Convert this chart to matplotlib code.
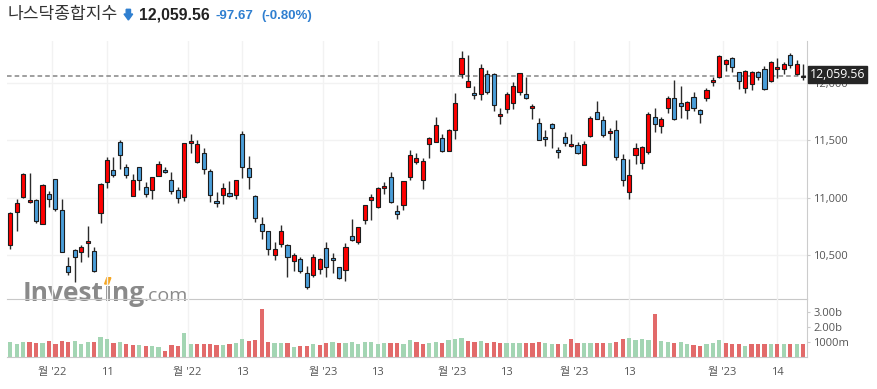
"""
Nasdaq Composite daily candles with volume, Investing.com style.
"""
import numpy as np
import matplotlib
matplotlib.use('Agg')
import matplotlib.pyplot as plt
from matplotlib.patches import Polygon, Rectangle

W, H = 877, 389

# daily OHLC (Oct 21 2022 .. Apr 20 2023)
opens = [
    10587, 10874, 11004, 10961, 10978, 10770, 11033, 11160, 10891, 10405,
    10550, 10526, 10605, 10538, 10871, 11134, 11239, 11482, 11268, 11016,
    11265, 11091, 11065, 11186, 11239, 11152, 11065, 11004, 11473, 11314,
    11386, 11233, 10969, 11022, 11039, 11022, 11551, 11256, 11016, 10770,
    10709, 10500, 10596, 10587, 10448, 10469, 10344, 10327, 10379, 10561,
    10474, 10396, 10370, 10665, 10613, 10804, 10978, 10917, 11082, 11178,
    10888, 10935, 11178, 11308, 11152, 11464, 11482, 11517, 11404, 11586,
    12075, 11960, 11907, 11899, 12072, 12072, 11708, 11768, 11820, 11916,
    11902, 11777, 11647, 11525, 11638, 11412, 11525, 11447, 11456, 11282,
    11534, 11742, 11673, 11560, 11586, 11334, 11048, 11369, 11299, 11395,
    11699, 11621, 11777, 11864, 11820, 11760, 11873, 11760, 11864, 12003,
    12046, 12159, 12211, 12090, 11951, 11986, 12090, 12116, 12012, 12116,
    12116, 12237, 12072, 12046]
highs = [
    10880, 10987, 11213, 11213, 10987, 11117, 11062, 11160, 10993, 10489,
    10555, 10590, 10755, 10570, 11126, 11357, 11352, 11502, 11291, 11204,
    11265, 11134, 11181, 11317, 11268, 11221, 11094, 11473, 11551, 11502,
    11430, 11253, 11048, 11126, 11143, 11152, 11580, 11360, 11027, 10836,
    10715, 10613, 10761, 10599, 10518, 10483, 10408, 10509, 10474, 10613,
    10518, 10396, 10605, 10813, 10749, 10935, 11033, 11097, 11140, 11227,
    10935, 11143, 11412, 11386, 11343, 11525, 11699, 11557, 11595, 11907,
    12275, 12240, 11974, 12159, 12107, 12081, 11783, 11922, 12003, 12081,
    12046, 11815, 11690, 11586, 11647, 11438, 11569, 11551, 11482, 11491,
    11708, 11838, 11708, 11603, 11673, 11378, 11334, 11473, 11453, 11748,
    11777, 11699, 11884, 12020, 11968, 11838, 11916, 11768, 11951, 12046,
    12237, 12203, 12220, 12090, 12107, 12098, 12098, 12142, 12185, 12211,
    12177, 12255, 12194, 12159]
lows = [
    10555, 10715, 11001, 10958, 10784, 10770, 10923, 10888, 10526, 10330,
    10266, 10440, 10483, 10353, 10784, 11082, 11178, 11247, 11169, 11016,
    11068, 11004, 10987, 11186, 11218, 11030, 10952, 10975, 11386, 11305,
    11204, 10961, 10917, 10943, 11004, 10993, 11169, 11077, 10787, 10645,
    10500, 10460, 10576, 10315, 10367, 10344, 10208, 10309, 10335, 10315,
    10344, 10298, 10278, 10628, 10599, 10770, 10804, 10912, 11030, 10958,
    10813, 10891, 11152, 11294, 11074, 11349, 11482, 11395, 11404, 11508,
    12038, 11960, 11855, 11847, 11899, 11754, 11638, 11734, 11768, 11890,
    11855, 11682, 11502, 11453, 11435, 11343, 11453, 11438, 11378, 11282,
    11525, 11682, 11525, 11499, 11326, 11100, 10987, 11291, 11247, 11378,
    11569, 11560, 11734, 11673, 11690, 11682, 11751, 11647, 11838, 11968,
    12038, 12098, 12090, 11942, 11907, 11933, 12020, 11933, 12003, 12038,
    12072, 12125, 12064, 12020]
closes = [
    10865, 10958, 11204, 10978, 10801, 11108, 10993, 10900, 10532, 10353,
    10483, 10570, 10622, 10361, 11117, 11326, 11201, 11369, 11195, 11152,
    11152, 11030, 11181, 11291, 11221, 11056, 10995, 11473, 11491, 11464,
    11247, 11022, 10952, 11082, 11013, 11152, 11265, 11178, 10822, 10709,
    10553, 10553, 10709, 10483, 10500, 10361, 10222, 10483, 10466, 10396,
    10457, 10306, 10570, 10636, 10744, 10935, 11004, 11082, 11100, 10967,
    10857, 11143, 11369, 11343, 11317, 11517, 11629, 11404, 11586, 11820,
    12211, 12012, 11890, 12125, 11922, 11803, 11725, 11902, 11968, 12081,
    11864, 11794, 11502, 11508, 11603, 11395, 11473, 11464, 11386, 11464,
    11690, 11682, 11543, 11577, 11352, 11152, 11195, 11430, 11438, 11725,
    11638, 11682, 11864, 11682, 11794, 11829, 11777, 11725, 11933, 12020,
    12229, 12194, 12133, 12012, 12098, 12090, 12046, 11942, 12177, 12133,
    12163, 12155, 12158, 12059.56]
prev_close = 10614  # close of the day before the first candle

# volume in billions
volumes = [
    0.97, 0.84, 0.97, 0.97, 0.91, 0.91, 1.04, 0.84, 1.04, 0.97,
    1.04, 0.84, 0.97, 0.97, 1.30, 1.17, 0.91, 0.97, 0.84, 0.77,
    0.77, 0.71, 0.71, 0.64, 0.38, 0.77, 0.71, 1.57, 0.84, 0.84,
    0.84, 0.84, 0.77, 0.77, 0.84, 0.91, 1.17, 1.04, 1.10, 3.16,
    0.97, 0.91, 0.91, 0.91, 0.64, 0.71, 0.71, 0.84, 0.77, 0.91,
    0.97, 0.91, 0.91, 0.97, 0.84, 0.97, 0.97, 0.84, 0.91, 0.91,
    0.91, 0.84, 1.10, 0.97, 0.84, 0.91, 0.97, 0.91, 1.10, 1.17,
    1.24, 1.04, 0.97, 1.04, 0.91, 0.97, 0.91, 0.91, 0.91, 0.91,
    0.91, 0.91, 0.97, 0.91, 0.84, 0.84, 0.84, 1.17, 0.91, 0.91,
    0.91, 0.91, 0.91, 0.91, 0.97, 1.17, 1.24, 1.10, 1.17, 1.10,
    2.83, 1.04, 0.97, 0.91, 0.97, 0.84, 0.77, 0.71, 0.84, 0.91,
    1.10, 0.91, 0.84, 0.84, 0.71, 0.84, 0.84, 0.84, 0.84, 0.84,
    0.84, 0.84, 0.84, 0.84]

# x gridlines (candle index) and their labels
grid_pos = [6.5, 15, 27.5, 36, 48.5, 57, 68.5, 77, 87.5, 96, 110.5, 119]
grid_labels = ["월 '22", "11", "월 '22", "13", "월 '23", "13",
               "월 '23", "13", "월 '23", "13", "월 '23", "14"]
price_ticks = [10500, 11000, 11500, 12000]
vol_ticks = [1, 2, 3]
vol_labels = ['1000m', '2.00b', '3.00b']

RED = '#ff0000'
BLUE = '#4a9ed9'
VOL_UP = '#a3d5b3'
VOL_DN = '#e26a6a'
ORANGE = '#f5a623'
TXT_BLUE = '#2f7fd0'
LOGO = '#8a8a8a'

plt.rcParams['font.family'] = ['Open Sans', 'Noto Sans CJK KR']


def fx(x):
    return x / W


def fy(y):
    return 1 - y / H


fig = plt.figure(figsize=(W / 100, H / 100), dpi=100)
ax = fig.add_axes([fx(7), fy(299), 800 / W, 258 / H])
axv = fig.add_axes([fx(7), fy(357), 800 / W, 58 / H])
for a in (ax, axv):
    a.set_facecolor('none')
    a.set_xlim(-0.51, 123.6)
    a.set_xticks(grid_pos)
    a.yaxis.tick_right()
    a.spines['top'].set_visible(False)
    a.spines['left'].set_visible(False)
    a.spines['right'].set_color('#cccccc')
    a.spines['bottom'].set_color('#c8c8c8')
    a.set_axisbelow(True)
    a.tick_params(axis='y', length=2.5, color='#cccccc',
                  labelcolor='#555555', labelsize=8, pad=2)

# candles
idx = np.arange(len(opens))
o = np.array(opens, dtype=float)
c = np.array(closes, dtype=float)
up = c >= o
lo = np.minimum(o, c)
hgt = np.abs(c - o)
min_h = 10
small = hgt < min_h
lo[small] = (o[small] + c[small]) / 2 - min_h / 2
hgt[small] = min_h
ax.vlines(idx, lows, highs, color='#2b2b2b', lw=1, zorder=2)
ax.bar(idx, hgt, bottom=lo, width=0.64, color=np.where(up, RED, BLUE),
       edgecolor='#1c1c1c', lw=0.8, zorder=3)
ax.axhline(closes[-1], color='#858585', lw=1.1, dashes=(3, 2), zorder=1.5)

ax.set_ylim(10121, 12362)
ax.set_yticks(price_ticks)
ax.set_yticklabels([f'{t:,}' for t in price_ticks])
ax.tick_params(axis='x', length=0, labelbottom=False)
ax.grid(True, color='#f2f2f2', lw=1)

# volume
prev = [prev_close] + closes[:-1]
vcol = [VOL_UP if cl >= p else VOL_DN for cl, p in zip(closes, prev)]
axv.bar(idx, volumes, width=0.66, color=vcol, zorder=2)
axv.set_ylim(0, 3.84)
axv.set_yticks(vol_ticks)
axv.set_yticklabels(vol_labels)
axv.set_xticklabels(grid_labels)
axv.tick_params(axis='x', length=0, labelsize=8, labelcolor='#555555', pad=7)
axv.grid(True, axis='x', color='#f2f2f2', lw=1)

# last price box on the right axis
fig.patches.append(Rectangle((fx(808), fy(83.3)), 59 / W, 17.6 / H,
                             transform=fig.transFigure, color='#262626'))
fig.text(fx(837.5), fy(74.8), '12,059.56', color='white', size=8.8,
         ha='center', va='center')

# header
fig.text(fx(8), fy(19.5), '나스닥종합지수', family='Noto Sans CJK KR',
         size=12.3, color='#333333', va='baseline')
arrow = [(126.2, 9.3), (130.5, 9.3), (130.5, 14), (132.7, 14),
         (128.4, 20), (124, 14), (126.2, 14)]
fig.patches.append(Polygon([(fx(x), fy(y)) for x, y in arrow],
                           transform=fig.transFigure, color=TXT_BLUE))
fig.text(fx(139), fy(19.2), '12,059.56', family='Liberation Sans',
         weight='bold', size=11.4, color='#222222', va='baseline')
fig.text(fx(216), fy(19.2), '-97.67', family='Liberation Sans',
         weight='bold', size=9.5, color=TXT_BLUE, va='baseline')
fig.text(fx(261), fy(19.2), '(-0.80%)', family='Liberation Sans',
         weight='bold', size=9.5, color=TXT_BLUE, va='baseline')

# watermark: pieces laid out one after another so the orange dot sits on the i
renderer = fig.canvas.get_renderer()
x_px = 23
for piece, kw in [('Invest', dict(weight='bold', size=19)),
                  ('ı', dict(weight='bold', size=19)),
                  ('ng', dict(weight='bold', size=19)),
                  ('.com', dict(size=14))]:
    t = fig.text(fx(x_px), fy(301), piece, family='Open Sans', color=LOGO,
                 va='baseline', zorder=-1, **kw)
    bb = t.get_window_extent(renderer)
    if piece == 'ı':
        cx = (bb.x0 + bb.x1) / 2
        dot = [(cx - 3.3, 284), (cx - 1.0, 277.7),
               (cx + 2.9, 277.7), (cx + 0.6, 284)]
        fig.patches.append(Polygon([(fx(x), fy(y)) for x, y in dot],
                                   transform=fig.transFigure,
                                   color=ORANGE, zorder=-1))
    x_px += bb.width

fig.savefig('out.png', dpi=100)
